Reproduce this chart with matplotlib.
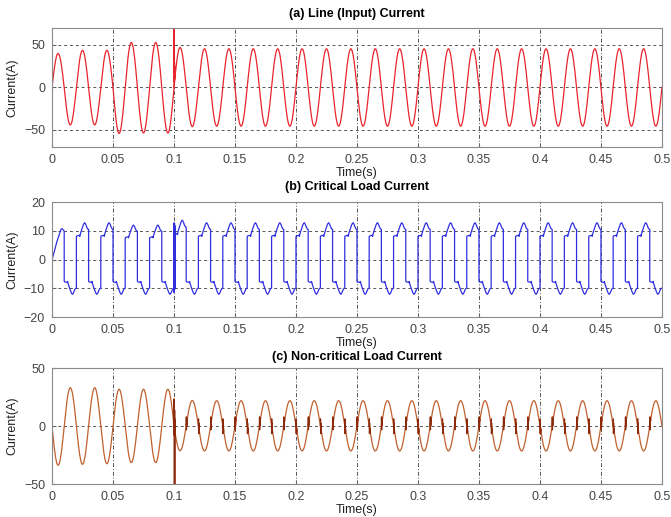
import numpy as np
import matplotlib
matplotlib.use("Agg")
import matplotlib.pyplot as plt

plt.rcParams['font.family'] = ['Liberation Sans', 'DejaVu Sans']

# ---- data ----
half = 0.01  # 50 Hz, one half-cycle = 10 ms

# (a) line current: signed peak of each half-cycle (A)
a_peaks = [40, -44, 43.7, -44, 43.7, -54, 53, -53.5, 53, -53.5,
           47, -46, 45.5, -45.5, 45.5, -45.5, 45.5, -45.5, 45.5, -45.5,
           45.5, -45.5, 45.5, -45.5, 45.5, -45.5, 45.5, -45.5, 45.5, -45.5,
           45.5, -45.5, 45.5, -45.5, 45.5, -45.5, 45.5, -45.5, 45.5, -45.5,
           45.5, -45.5, 45.5, -45.5, 45.5, -45.5, 45.5, -45.5, 45.5, -45.5]
a_spike_t = [0.1]
a_spike_off = [0, 95, 4, 24, 2, 16, 4, 0]

# (b) critical load current
b_first_frac = [0.0, 0.2, 0.4, 0.6, 0.74, 0.85, 0.95, 1.0]
b_first_val = [0.0, 3.0, 6.2, 8.8, 10.6, 10.7, 10.1, 9.9]
b_peaks = [-12.1, 12.8, -12.1, 12.8, -12.1, 12.0, -12.1, 12.0, -12.1,
           13.7, -12.1, 12.8, -12.1, 12.8, -12.1, 12.8, -12.1, 12.8, -12.1,
           12.8, -12.1, 12.8, -12.1, 12.8, -12.1, 12.8, -12.1, 12.8, -12.1,
           12.8, -12.1, 12.8, -12.1, 12.8, -12.1, 12.8, -12.1, 12.8, -12.1,
           12.8, -12.1, 12.8, -12.1, 12.8, -12.1, 12.8, -12.1, 12.8, -12.1]
b_shape_frac = [0.0, 0.03, 0.15, 0.25, 0.28, 0.32, 0.40, 0.50, 0.60, 0.68, 0.76, 0.85, 0.93, 1.0]
b_shape_val = [0.62, 0.64, 0.65, 0.66, 0.63, 0.69, 0.78, 0.88, 0.97, 1.00, 0.96, 0.88, 0.83, 0.82]
b_spike_t = [0.1]
b_spike_off = [0, -20, 4, -18, 3, -12, 2, -19, 0]

# (c) non-critical load current
c_peaks = [-33.8, 33, -33, 33, -32.5, 31.7, -31.5, 31.7, -31.5, 31.7,
           -21.3, 22, -21.5, 21.8, -21.5, 21.8, -21.5, 21.8, -21.5, 21.8,
           -21.5, 21.8, -21.5, 21.8, -21.5, 21.8, -21.5, 21.8, -21.5, 21.8,
           -21.5, 21.8, -21.5, 21.8, -21.5, 21.8, -21.5, 21.8, -21.5, 21.8,
           -21.5, 21.8, -21.5, 21.8, -21.5, 21.8, -21.5, 21.8, -21.5, 21.8]
c_big_t = [0.1]
c_big_off = [0, 24, -6, 16, -95, 10, -4, 0]
c_spike_t = [0.11, 0.12, 0.13, 0.14, 0.15, 0.16, 0.17, 0.18, 0.19, 0.2,
             0.21, 0.22, 0.23, 0.24, 0.25, 0.26, 0.27, 0.28, 0.29, 0.3,
             0.31, 0.32, 0.33, 0.34, 0.35, 0.36, 0.37, 0.38, 0.39, 0.4,
             0.41, 0.42, 0.43, 0.44, 0.45, 0.46, 0.47, 0.48, 0.49]
c_spike_off = [0, 7, -5, 5, -3, 2, 0]

x_ticks = [0, 0.05, 0.1, 0.15, 0.2, 0.25, 0.3, 0.35, 0.4, 0.45, 0.5]
x_labels = ['0', '0.05', '0.1', '0.15', '0.2', '0.25', '0.3', '0.35', '0.4', '0.45', '0.5']


def build(peaks, fx, fy, start=0.0):
    fx = np.asarray(fx, float)
    fy = np.asarray(fy, float)
    ts, ys = [], []
    for k, p in enumerate(peaks):
        ts.append(start + (k + fx) * half)
        ys.append(p * fy)
    return np.concatenate(ts), np.concatenate(ys)


def spikes(t, y, times, offs, dt=0.00012):
    st, sy = [], []
    for t0 in times:
        tt = t0 + 1e-6 + np.arange(len(offs)) * dt
        st += list(tt) + [np.nan]
        sy += list(np.interp(tt, t, y) + np.asarray(offs)) + [np.nan]
    return np.array(st), np.array(sy)


sine_x = np.linspace(0, 1, 41)
sine_y = np.sin(np.pi * sine_x)

ta, ya = build(a_peaks, sine_x, sine_y)
tb0 = np.asarray(b_first_frac) * half
yb0 = np.asarray(b_first_val)
tb1, yb1 = build(b_peaks, b_shape_frac, b_shape_val, start=half)
tb = np.concatenate([tb0, tb1])
yb = np.concatenate([yb0, yb1])
tc, yc = build(c_peaks, sine_x, sine_y)

fig = plt.figure(figsize=(6.71, 5.17), dpi=100)
rects = [[0.0775, 0.7157, 0.909, 0.2302],
         [0.0775, 0.3868, 0.909, 0.2224],
         [0.0775, 0.0638, 0.909, 0.2244]]
axs = [fig.add_axes(r) for r in rects]

red = '#E8242C'
blue = '#2F2FE0'
brown = '#C0602E'
dark_brown = '#8E2A0C'

# (a)
ax = axs[0]
ax.plot(ta, ya, color=red, lw=0.9)
sx, sy = spikes(ta, ya, a_spike_t, a_spike_off)
ax.plot(sx, sy, color=red, lw=1.0)
ax.set_ylim(-70, 70)
ax.set_yticks([-50, 0, 50])
ax.set_title('(a) Line (Input) Current', fontsize=9, fontweight='bold', pad=8)

# (b)
ax = axs[1]
ax.plot(tb, yb, color=blue, lw=0.9)
sx, sy = spikes(tb, yb, b_spike_t, b_spike_off)
ax.plot(sx, sy, color=blue, lw=1.2)
ax.set_ylim(-20, 20)
ax.set_yticks([-20, -10, 0, 10, 20])
ax.set_title('(b) Critical Load Current', fontsize=9, fontweight='bold', pad=9)

# (c)
ax = axs[2]
ax.plot(tc, yc, color=brown, lw=0.9)
sx, sy = spikes(tc, yc, c_big_t, c_big_off)
ax.plot(sx, sy, color=dark_brown, lw=1.2)
sx, sy = spikes(tc, yc, c_spike_t, c_spike_off)
ax.plot(sx, sy, color=dark_brown, lw=0.9)
ax.set_ylim(-50, 50)
ax.set_yticks([-50, 0, 50])
ax.set_title('(c) Non-critical Load Current', fontsize=9, fontweight='bold', pad=6)

for ax in axs:
    ax.set_xlim(0, 0.5)
    ax.set_xticks(x_ticks)
    ax.set_xticklabels(x_labels)
    ax.grid(axis='x', color='#555555', lw=0.7, linestyle=(0, (4, 2, 1, 2)))
    ax.grid(axis='y', color='#555555', lw=0.7, linestyle=(0, (3, 3)))
    ax.tick_params(direction='in', length=3, labelsize=9, colors='#666666',
                   labelcolor='#444444', pad=5)
    for s in ax.spines.values():
        s.set_color('#8a8a8a')
    ax.set_xlabel('Time(s)', fontsize=9, labelpad=1, color='#222222')
    ax.set_ylabel('Current(A)', fontsize=9, labelpad=4, color='#222222')

fig.savefig('out.png', dpi=100)
